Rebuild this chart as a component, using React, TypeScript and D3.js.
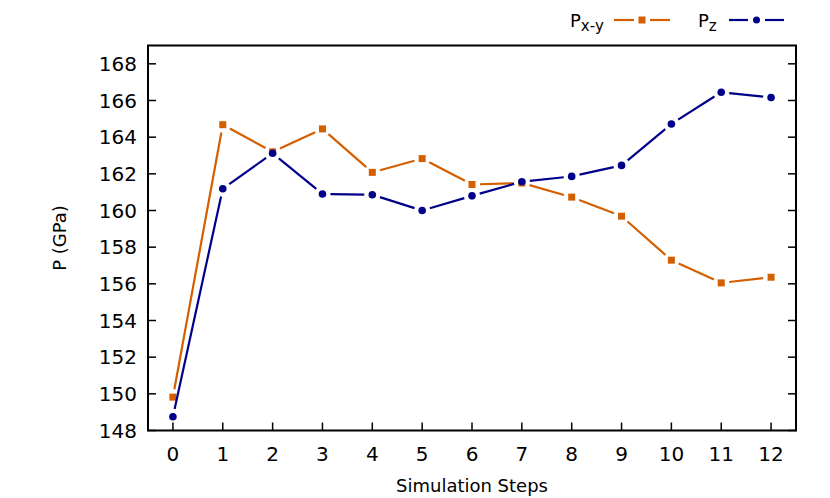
import React from "react";
import * as d3 from "d3";

const steps = [0, 1, 2, 3, 4, 5, 6, 7, 8, 9, 10, 11, 12];
const pxy = [149.82, 164.68, 163.2, 164.45, 162.08, 162.83, 161.42, 161.5, 160.73, 159.69, 157.29, 156.05, 156.36];
const pz = [148.75, 161.19, 163.12, 160.9, 160.86, 160.0, 160.8, 161.57, 161.86, 162.46, 164.72, 166.45, 166.16];
const yTicks = [148, 150, 152, 154, 156, 158, 160, 162, 164, 166, 168];

const W = 830;
const H = 498;
const margin = { left: 148, right: 34, top: 45.5, bottom: 67.5 };
const orange = "#d45f00";
const navy = "#00008b";
const font = "'DejaVu Sans', sans-serif";

const x = d3.scaleLinear().domain([-0.5, 12.5]).range([margin.left, W - margin.right]);
const y = d3.scaleLinear().domain([148, 169]).range([H - margin.bottom, margin.top]);

// segments with a small gap at each point, like gnuplot's pointinterval -1
function gapped(vals: number[], gap = 8) {
  const segs: string[] = [];
  for (let i = 0; i < vals.length - 1; i++) {
    const x1 = x(steps[i]), y1 = y(vals[i]);
    const x2 = x(steps[i + 1]), y2 = y(vals[i + 1]);
    const L = Math.hypot(x2 - x1, y2 - y1);
    if (L <= 2 * gap) continue;
    const ux = (x2 - x1) / L, uy = (y2 - y1) / L;
    segs.push(`M${x1 + ux * gap},${y1 + uy * gap}L${x2 - ux * gap},${y2 - uy * gap}`);
  }
  return segs.join("");
}

export default function App() {
  const x0 = margin.left, x1 = W - margin.right;
  const y0 = H - margin.bottom, y1 = margin.top;
  return (
    <svg width={W} height={H} style={{ position: "absolute", left: 0, top: 0, background: "#fff" }}>
      <rect width={W} height={H} fill="#fff" />
      {/* y ticks (left + mirrored right) */}
      {yTicks.map((t) => (
        <g key={t}>
          <line x1={x0} x2={x0 + 8} y1={y(t)} y2={y(t)} stroke="#000" strokeWidth={1.5} />
          <line x1={x1} x2={x1 - 8} y1={y(t)} y2={y(t)} stroke="#000" strokeWidth={1.5} />
          <text x={x0 - 11} y={y(t)} dy="0.36em" textAnchor="end" fontFamily={font} fontSize={20}>
            {t}
          </text>
        </g>
      ))}
      {steps.map((s) => (
        <g key={s}>
          <line x1={x(s)} x2={x(s)} y1={y0} y2={y0 - 8} stroke="#000" strokeWidth={1.5} />
          <text x={x(s)} y={y0 + 30} textAnchor="middle" fontFamily={font} fontSize={20}>
            {s}
          </text>
        </g>
      ))}
      <rect x={x0} y={y1} width={x1 - x0} height={y0 - y1} fill="none" stroke="#000" strokeWidth={2} />

      <text x={(x0 + x1) / 2} y={492} textAnchor="middle" fontFamily={font} fontSize={18}>
        Simulation Steps
      </text>
      <text transform={`translate(66,${(y0 + y1) / 2}) rotate(-90)`} textAnchor="middle" fontFamily={font} fontSize={18}>
        P (GPa)
      </text>

      {/* P x-y */}
      <path d={gapped(pxy)} fill="none" stroke={orange} strokeWidth={2.2} />
      {pxy.map((v, i) => (
        <rect key={i} x={x(steps[i]) - 3.5} y={y(v) - 3.5} width={7} height={7} fill={orange} />
      ))}
      {/* P z */}
      <path d={gapped(pz)} fill="none" stroke={navy} strokeWidth={2.2} />
      {pz.map((v, i) => (
        <circle key={i} cx={x(steps[i])} cy={y(v)} r={3.8} fill={navy} />
      ))}

      {/* legend */}
      <text x={570} y={27} fontFamily={font} fontSize={18}>
        P<tspan dy={4} fontSize={15}>x-y</tspan>
      </text>
      <line x1={614} x2={634} y1={20} y2={20} stroke={orange} strokeWidth={2.2} />
      <line x1={650} x2={670} y1={20} y2={20} stroke={orange} strokeWidth={2.2} />
      <rect x={638.5} y={16.5} width={7} height={7} fill={orange} />
      <text x={698} y={27} fontFamily={font} fontSize={18}>
        P<tspan dy={4} fontSize={15}>z</tspan>
      </text>
      <line x1={729} x2={748} y1={20} y2={20} stroke={navy} strokeWidth={2.2} />
      <line x1={765} x2={784} y1={20} y2={20} stroke={navy} strokeWidth={2.2} />
      <circle cx={756.5} cy={20} r={3.5} fill={navy} />
    </svg>
  );
}
